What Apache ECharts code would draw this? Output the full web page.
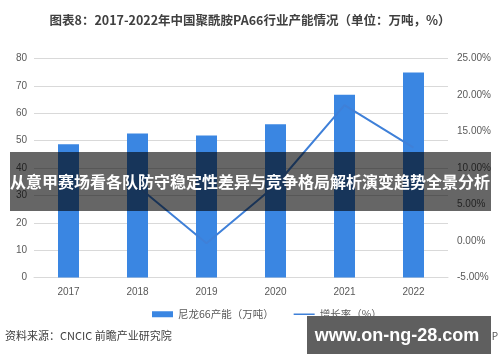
<!DOCTYPE html>
<html>
<head>
<meta charset="utf-8">
<script src="https://cdn.jsdelivr.net/npm/echarts@6/dist/echarts.min.js"></script>
<style>html,body{margin:0;padding:0;background:#fff;}#c{width:500px;height:362px;}</style>
</head>
<body>
<div id="c"></div>
<script>
var years = ['2017', '2018', '2019', '2020', '2021', '2022'];
var capacity = [48.7, 52.6, 51.9, 56.0, 66.8, 74.9];
var growth = [null, 7.5, -0.3, 7.6, 18.6, 12.8];
var leftTicks = {min: 0, max: 80, interval: 10};
var rightTicks = {min: -5, max: 25, interval: 5};
var titleText = '图表8：2017-2022年中国聚酰胺PA66行业产能情况（单位：万吨，%）';
var seriesNames = ['尼龙66产能（万吨）', '增长率（%）'];
var sourceText = '资料来源：CNCIC 前瞻产业研究院';
var bannerText = '从意甲赛场看各队防守稳定性差异与竞争格局解析演变趋势全景分析';
var siteText = 'www.on-ng-28.com';

var chart = echarts.init(document.getElementById('c'), null, {renderer: 'canvas'});
var axisFont = {color: '#595959', fontSize: 10, fontFamily: 'Liberation Sans, Arial, sans-serif'};
chart.setOption({
  animation: false,
  title: {
    text: titleText, left: 'center', top: 9,
    textStyle: {fontSize: 12.5, fontWeight: 'bold', color: '#404040', fontFamily: 'Noto Sans CJK SC, sans-serif'}
  },
  grid: {left: 34, right: 52, top: 58.5, bottom: 84.5},
  legend: {
    data: [
      {name: seriesNames[0], icon: 'rect'},
      {name: seriesNames[1], icon: 'path://M0,0L0.01,0L0.01,0.01Z M0,2.2L21,2.2L21,3.8L0,3.8Z M0,6L0.01,6L0.01,5.99Z'}
    ],
    left: 147, top: 304, itemWidth: 21, itemHeight: 6, itemGap: 20,
    textStyle: {color: '#595959', fontSize: 10.5, fontFamily: 'Noto Sans CJK SC, sans-serif'}
  },
  xAxis: {
    type: 'category', data: years,
    axisLine: {lineStyle: {color: '#d9d9d9'}},
    axisTick: {show: false},
    axisLabel: Object.assign({margin: 10}, axisFont)
  },
  yAxis: [
    {
      type: 'value', min: leftTicks.min, max: leftTicks.max, interval: leftTicks.interval,
      axisLine: {show: false}, axisTick: {show: false},
      splitLine: {lineStyle: {color: '#d9d9d9'}},
      axisLabel: Object.assign({margin: 7}, axisFont)
    },
    {
      type: 'value', min: rightTicks.min, max: rightTicks.max, interval: rightTicks.interval,
      axisLine: {show: false}, axisTick: {show: false},
      splitLine: {show: false},
      axisLabel: Object.assign({margin: 9, formatter: function (v) { return v.toFixed(2) + '%'; }}, axisFont)
    }
  ],
  series: [
    {
      name: seriesNames[0], type: 'bar', data: capacity, barWidth: 21,
      itemStyle: {color: '#3a86e2'}, z: 2
    },
    {
      name: seriesNames[1], type: 'line', data: growth, yAxisIndex: 1,
      symbol: 'none', lineStyle: {color: '#3f80d8', width: 2}, itemStyle: {color: '#3f80d8'}, z: 3
    }
  ],
  graphic: [
    {
      type: 'text', left: 5, top: 330,
      style: {text: sourceText, fill: '#404040', fontSize: 11, fontFamily: 'Noto Sans CJK SC, sans-serif'}
    },
    {
      type: 'text', right: 2, top: 331,
      style: {text: '前瞻经济学人APP', fill: '#595959', fontSize: 10, fontFamily: 'Noto Sans CJK SC, sans-serif'}
    },
    {
      type: 'rect', shape: {x: 10, y: 152, width: 481, height: 59},
      style: {fill: 'rgba(0,0,0,0.6)'}, z: 100
    },
    {
      type: 'text', x: 250, y: 182, z: 101,
      style: {text: bannerText, fill: '#ffffff', fontSize: 16, fontWeight: 'bold',
        fontFamily: 'Noto Sans CJK SC, sans-serif', align: 'center', verticalAlign: 'middle'}
    },
    {
      type: 'rect', shape: {x: 307, y: 316, width: 184, height: 38},
      style: {fill: '#5f5f5f'}, z: 100
    },
    {
      type: 'text', x: 397, y: 336, z: 101,
      style: {text: siteText, fill: '#ffffff', fontSize: 18, fontWeight: 'bold',
        fontFamily: 'Liberation Sans, Arial, sans-serif', align: 'center', verticalAlign: 'middle'}
    }
  ]
});
</script>
</body>
</html>
